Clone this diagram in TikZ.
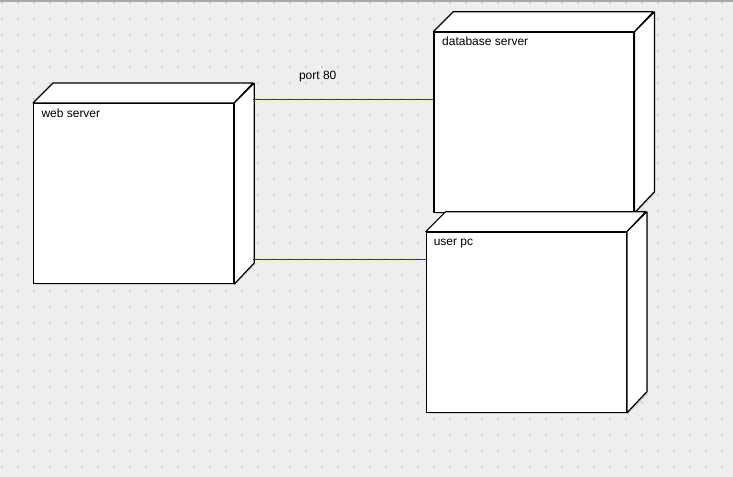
\documentclass[tikz,border=0pt]{standalone}
\usepackage{fontspec}
\setmainfont{Liberation Sans}
\usetikzlibrary{positioning}

\definecolor{canvas}{RGB}{238,238,238}
\definecolor{griddot}{RGB}{208,208,208}
\definecolor{rim}{RGB}{168,168,168}
\definecolor{shade}{RGB}{210,210,210}
\definecolor{linkblue}{RGB}{50,50,130}

\tikzset{every picture/.style={line width=0.75pt}}
\tikzset{
  front/.style={draw=black, fill=white, line width=0.9pt, inner sep=0pt,
    minimum width=150pt, minimum height=135pt},
  face/.style={draw=black, fill=white, line width=0.9pt, line join=bevel},
  shadow/.style={fill=shade, draw=none},
  link/.style={draw=linkblue, line width=0.7pt},
  lbl/.style={font=\fontsize{9}{11}\selectfont, inner sep=0pt}
}

\begin{document}
\begin{tikzpicture}[x=0.75pt,y=0.75pt,yscale=-1,xscale=1]
\useasboundingbox (0,0) rectangle (733,477);

%Background with dot grid
\fill[canvas] (0,0) rectangle (733,477);
\foreach \gx in {0,...,45}
  \foreach \gy in {0,...,29}
    \fill[griddot] (0.7+16*\gx,2.5+16*\gy) rectangle ++(2,2);
\draw[rim, line width=1.5pt] (0,0.75) -- (733,0.75);

%Shape: Cube [id:web server]
\fill[shadow] (35,105) -- (55,85) -- (255,85) -- (255,265) -- (235,285) -- (35,285) -- cycle;
\node[front, anchor=north west] (web) at (33,103) {};
\draw[face] (web.north west) -- ++(20,-20) -- ++(200,0) -- (web.north east) -- cycle;
\draw[face] (web.north east) -- ++(20,-20) -- ++(0,180) -- (web.south east) -- cycle;

%Shape: Cube [id:database server]
\fill[shadow] (435,34) -- (455,14) -- (655,14) -- (655,194) -- (635,214) -- (435,214) -- cycle;
\node[front, anchor=north west] (db) at (433.3,31.7) {};
\draw[face] (db.north west) -- ++(20,-20) -- ++(200,0) -- (db.north east) -- cycle;
\draw[face] (db.north east) -- ++(20,-20) -- ++(0,180) -- (db.south east) -- cycle;

%Shape: Cube [id:user pc]
\fill[shadow] (428,234) -- (448,214) -- (648,214) -- (648,394) -- (628,414) -- (428,414) -- cycle;
\node[front, anchor=north west] (pc) at (425.7,231.7) {};
\draw[face] (pc.north west) -- ++(20,-20) -- ++(200,0) -- (pc.north east) -- cycle;
\draw[face] (pc.north east) -- ++(20,-20) -- ++(0,180) -- (pc.south east) -- cycle;

%Straight Lines [links]
\coordinate (webport) at (253.3,99.5);
\coordinate (webpc) at (253.3,259.5);
\draw[link] (webport) -- (db.west |- webport);
\draw[link] (webpc) -- (pc.west |- webpc);

% Text Node
\node[lbl, anchor=base west] (weblbl) at (41,118) {web server};
% Text Node
\node[lbl, anchor=base west] (dblbl) at (441.7,46) {database server};
% Text Node
\node[lbl, anchor=base west] (pclbl) at (433.3,245.7) {user pc};
% Text Node
\node[lbl, anchor=base] (portlbl) at (317.7,79.3) {port 80};

\end{tikzpicture}
\end{document}
